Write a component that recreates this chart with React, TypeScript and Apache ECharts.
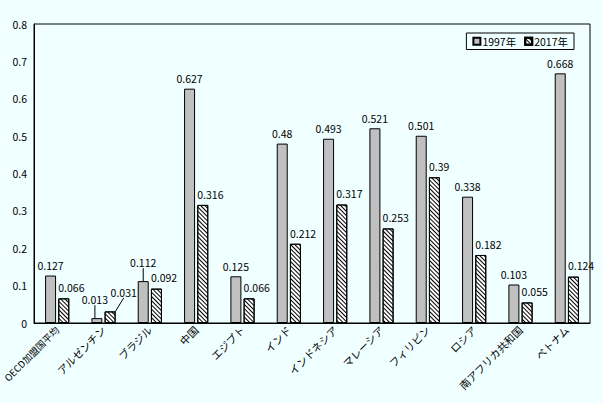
import { useEffect, useRef } from 'react';
import * as echarts from 'echarts';

const categories = [
  'OECD加盟国平均',
  'アルゼンチン',
  'ブラジル',
  '中国',
  'エジプト',
  'インド',
  'インドネシア',
  'マレーシア',
  'フィリピン',
  'ロシア',
  '南アフリカ共和国',
  'ベトナム'
];

const values1997 = [0.127, 0.013, 0.112, 0.627, 0.125, 0.48, 0.493, 0.521, 0.501, 0.338, 0.103, 0.668];
const values2017 = [0.066, 0.031, 0.092, 0.316, 0.066, 0.212, 0.317, 0.253, 0.39, 0.182, 0.055, 0.124];

const seriesNames = ['1997年', '2017年'];

// labels that Excel pushed aside (index -> [dx, dy]), drawn with leader lines
const moved1997: Record<number, [number, number]> = { 1: [-2, -8], 2: [0, -8] };
const moved2017: Record<number, [number, number]> = { 1: [6, -8] };

const FONT = '"Noto Sans CJK JP", "DejaVu Sans", sans-serif';

// wrap plain values so that only the moved labels get a leader line
const withLines = (values: number[], moved: Record<number, [number, number]>) =>
  values.map((v, i) => ({
    value: v,
    labelLine: { show: !!moved[i] }
  }));

export default function App() {
  const chartRef = useRef<HTMLDivElement>(null);

  useEffect(() => {
    if (!chartRef.current) return;
    const chart = echarts.init(chartRef.current, null, { renderer: 'svg' });

    const hatch = {
      symbol: 'rect',
      symbolSize: 1,
      color: '#000000',
      backgroundColor: '#ffffff',
      dashArrayX: [1, 0],
      dashArrayY: [0.9, 1.3],
      rotation: Math.PI / 4
    };

    // the long first label is set a little smaller so that it stays on the page
    const xData = categories.map((c, i) =>
      i === 0 ? { value: c, textStyle: { fontSize: 9.5 } } : c
    );

    const option: any = {
      animation: false,
      backgroundColor: '#F0FFFF',
      textStyle: { fontFamily: FONT },
      legend: {
        data: seriesNames,
        right: 29,
        top: 33,
        orient: 'horizontal',
        borderColor: '#000000',
        borderWidth: 1,
        padding: [3, 6],
        itemWidth: 7,
        itemHeight: 7,
        itemGap: 8,
        icon: 'rect',
        textStyle: { fontSize: 10.5, color: '#000', padding: [0, 0, 0, -3] }
      },
      grid: {
        left: 34,
        right: 13,
        top: 24,
        bottom: 80,
        containLabel: false,
        outerBoundsMode: 'none',
        show: true,
        borderColor: '#000000',
        borderWidth: 1,
        backgroundColor: 'transparent'
      },
      xAxis: {
        type: 'category',
        data: xData,
        axisTick: { show: false },
        axisLine: { lineStyle: { color: '#000' } },
        axisLabel: {
          rotate: 45,
          interval: 0,
          fontSize: 10.5,
          color: '#000',
          margin: 5
        }
      },
      yAxis: {
        type: 'value',
        min: 0,
        max: 0.8,
        interval: 0.1,
        axisLine: { show: true, lineStyle: { color: '#000' } },
        axisTick: { show: false },
        splitLine: { show: false },
        axisLabel: {
          fontSize: 10.5,
          color: '#000',
          margin: 7,
          formatter: (v: number) => String(Math.round(v * 10) / 10)
        }
      },
      series: [
        {
          name: seriesNames[0],
          type: 'bar',
          barWidth: 11,
          barGap: '20%',
          itemStyle: { color: '#C0C0C0', borderColor: '#000', borderWidth: 1 },
          label: {
            show: true,
            position: 'top',
            distance: 5,
            fontSize: 10.5,
            color: '#000'
          },
          labelLine: { lineStyle: { color: '#000', width: 1 } },
          labelLayout: (p: any) => {
            const m = moved1997[p.dataIndex];
            return m ? { dx: m[0], dy: m[1] } : {};
          },
          data: withLines(values1997, moved1997)
        },
        {
          name: seriesNames[1],
          type: 'bar',
          barWidth: 11,
          itemStyle: { color: '#ffffff', borderColor: '#000', borderWidth: 1, decal: hatch },
          label: {
            show: true,
            position: [0, -16],
            fontSize: 10.5,
            color: '#000'
          },
          labelLine: { lineStyle: { color: '#000', width: 1 } },
          labelLayout: (p: any) => {
            const m = moved2017[p.dataIndex];
            return m ? { dx: m[0], dy: m[1] } : {};
          },
          data: withLines(values2017, moved2017)
        }
      ]
    };

    chart.setOption(option);

    return () => {
      chart.dispose();
    };
  }, []);

  return (
    <div
      ref={chartRef}
      style={{ position: 'fixed', left: 0, top: 0, width: '603px', height: '403px' }}
    />
  );
}
